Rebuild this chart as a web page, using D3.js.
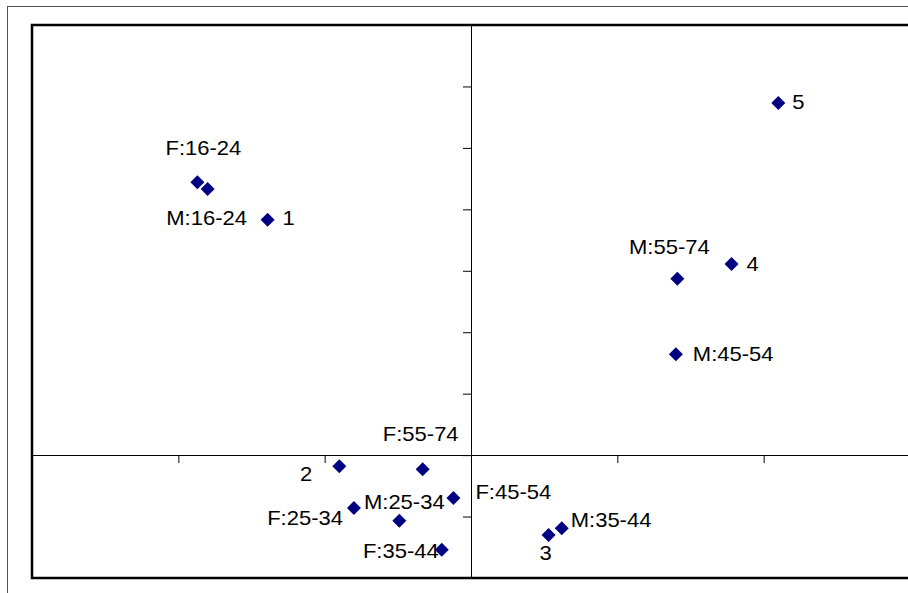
<!DOCTYPE html>
<html>
<head>
<meta charset="utf-8">
<script src="https://cdn.jsdelivr.net/npm/d3@7"></script>
<style>
    html, body { margin: 0; padding: 0; background: #fff; }
    #chart { width: 908px; height: 593px; overflow: hidden; }
    .point-label { font-family: "Liberation Sans", Arial, sans-serif; font-size: 20px; fill: #000; }
</style>
</head>
<body>
<div id="chart"></div>
<script>
// group / cluster names
const labels = ['F:16-24', 'M:16-24', '1', '5', '4', 'M:55-74', 'M:45-54', '2',
    'F:55-74', 'F:45-54', 'F:25-34', 'M:25-34', 'F:35-44', '3', 'M:35-44'];

// dimension 1 / dimension 2 scores
const xValues = [-1.87, -1.80, -1.39, 2.10, 1.78, 1.41, 1.40, -0.90,
    -0.33, -0.12, -0.80, -0.49, -0.20, 0.53, 0.62];
const yValues = [4.44, 4.33, 3.83, 5.73, 3.11, 2.87, 1.64, -0.18,
    -0.23, -0.70, -0.86, -1.07, -1.54, -1.30, -1.19];

const xTicks = [-3, -2, -1, 0, 1, 2, 3];
const yTicks = [-2, -1, 0, 1, 2, 3, 4, 5, 6, 7];

// where each label sits relative to its marker: [dx, dy, anchor]
const labelPlacement = [
    [6, -27, 'middle'], [-1, 36, 'middle'], [15, 5, 'start'], [14, 6, 'start'],
    [15, 7, 'start'], [-8, -25, 'middle'], [17, 7, 'start'], [-27, 15, 'end'],
    [-2, -28, 'middle'], [22, 1, 'start'], [-11, 17, 'end'], [5, -12, 'middle'],
    [-3, 8, 'end'], [-3, 25, 'middle'], [9, -1, 'start']
];

const width = 908;
const height = 593;
const plot = { left: 32, top: 25, right: 910, bottom: 578 };

const points = labels.map((label, i) => ({
    label,
    x: xValues[i],
    y: yValues[i],
    place: labelPlacement[i]
}));

const svg = d3.select('#chart')
    .append('svg')
    .attr('width', width)
    .attr('height', height);

// outer chart border (runs off the right / bottom edge)
svg.append('rect')
    .attr('x', 7.5)
    .attr('y', 6.5)
    .attr('width', width + 20)
    .attr('height', height + 20)
    .attr('fill', '#fff')
    .attr('stroke', '#555')
    .attr('stroke-width', 1);

const xScale = d3.scaleLinear()
    .domain([xTicks[0], xTicks[xTicks.length - 1]])
    .range([plot.left, plot.right]);

const yScale = d3.scaleLinear()
    .domain([yTicks[0], yTicks[yTicks.length - 1]])
    .range([plot.bottom, plot.top]);

// axes cross at the origin
svg.append('g')
    .attr('transform', `translate(0, ${Math.round(yScale(0))})`)
    .call(d3.axisBottom(xScale)
        .tickValues(xTicks)
        .tickFormat('')
        .tickSize(8)
        .tickSizeOuter(0))
    .call(g => g.selectAll('line, path').attr('stroke', '#000'));

svg.append('g')
    .attr('transform', `translate(${Math.round(xScale(0))}, 0)`)
    .call(d3.axisLeft(yScale)
        .tickValues(yTicks)
        .tickFormat('')
        .tickSize(8)
        .tickSizeOuter(0))
    .call(g => g.selectAll('line, path').attr('stroke', '#000'));

// plot area border
svg.append('rect')
    .attr('x', plot.left)
    .attr('y', plot.top)
    .attr('width', width + 20 - plot.left)
    .attr('height', plot.bottom - plot.top)
    .attr('fill', 'none')
    .attr('stroke', '#000')
    .attr('stroke-width', 2.5);

svg.selectAll('.marker')
    .data(points)
    .enter().append('path')
    .attr('class', 'marker')
    .attr('d', d3.symbol(d3.symbolSquare, 98))
    .attr('transform', d => `translate(${xScale(d.x)}, ${yScale(d.y)}) rotate(45)`)
    .attr('fill', '#000080');

svg.selectAll('.point-label')
    .data(points)
    .enter().append('text')
    .attr('class', 'point-label')
    .attr('text-anchor', d => d.place[2])
    .attr('transform', d => `translate(${xScale(d.x) + d.place[0]}, ${yScale(d.y) + d.place[1]}) scale(1.1, 1)`)
    .text(d => d.label);
</script>
</body>
</html>
